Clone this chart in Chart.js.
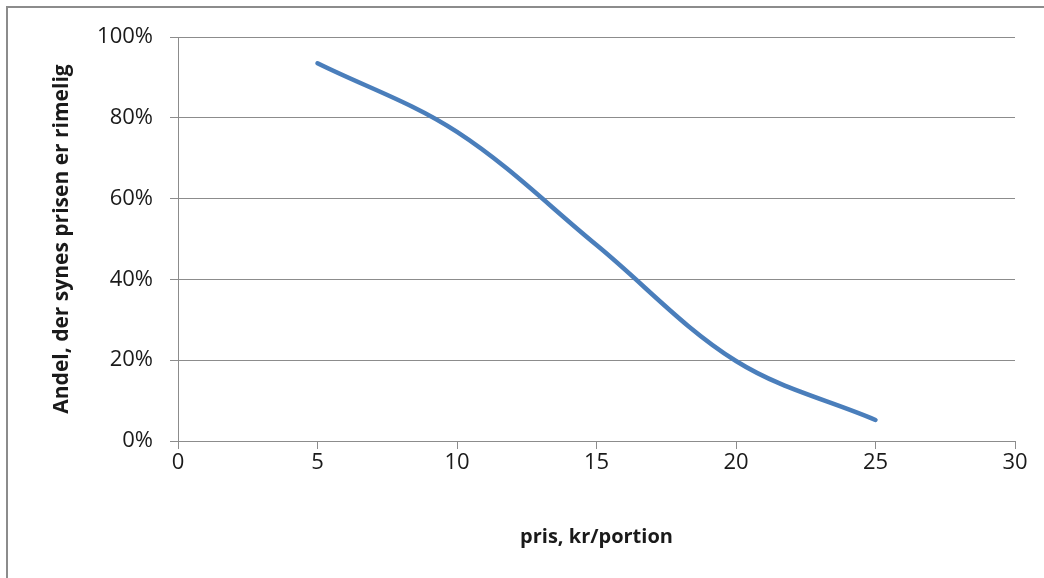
<!DOCTYPE html>
<html>
<head>
<meta charset="utf-8">
<script src="https://cdn.jsdelivr.net/npm/chart.js@4"></script>
<style>
  html, body { margin: 0; padding: 0; background: #fff; }
  #wrap { position: relative; width: 1044px; height: 578px; overflow: hidden; }
  #frame {
    position: absolute; left: 6px; top: 6px; width: 1200px; height: 800px;
    border: 2px solid #8c8c8c; pointer-events: none;
  }
</style>
</head>
<body>
<div id="wrap">
  <canvas id="priceChart" width="1044" height="578"></canvas>
  <div id="frame"></div>
</div>
<script>
// Price (kr/portion) vs share who find the price reasonable
var prices = [5, 10, 15, 20, 25];
var shares = [93.5, 76.5, 48.5, 19.8, 5.2];
var xTicks = [0, 5, 10, 15, 20, 25, 30];
var yTicks = [0, 20, 40, 60, 80, 100];

var COLORS = {
  line: '#4a7ebb',
  grid: '#8c8c8c',
  text: '#1a1a1a'
};

var FONT = "'Open Sans', 'Noto Sans', sans-serif";

var points = prices.map(function(p, i) { return { x: p, y: shares[i] }; });

var ctx = document.getElementById('priceChart').getContext('2d');
new Chart(ctx, {
  type: 'line',
  data: {
    datasets: [{
      data: points,
      borderColor: COLORS.line,
      borderWidth: 4.5,
      borderCapStyle: 'round',
      pointRadius: 0,
      tension: 0.35,
      fill: false
    }]
  },
  options: {
    responsive: false,
    animation: false,
    layout: { padding: { left: 0, top: 37, right: 29, bottom: 0 } },
    plugins: { legend: { display: false }, tooltip: { enabled: false } },
    scales: {
      x: {
        type: 'linear',
        min: 0,
        max: 30,
        afterBuildTicks: function(s) { s.ticks = xTicks.map(function(v) { return { value: v }; }); },
        afterFit: function(s) { s.height = 137; },
        grid: { drawOnChartArea: false, drawTicks: true, tickLength: 8, color: COLORS.grid },
        border: { display: true, color: COLORS.grid, width: 1 },
        ticks: { color: COLORS.text, font: { family: FONT, size: 22 }, padding: 1, maxRotation: 0 },
        title: {
          display: true,
          text: 'pris, kr/portion',
          color: COLORS.text,
          font: { family: FONT, size: 20, weight: 'bold' },
          padding: { top: 0, bottom: 29 }
        }
      },
      y: {
        min: 0,
        max: 100,
        afterBuildTicks: function(s) { s.ticks = yTicks.map(function(v) { return { value: v }; }); },
        afterFit: function(s) { s.width = 178; },
        grid: { color: COLORS.grid, tickLength: 8 },
        border: { display: true, color: COLORS.grid, width: 1 },
        ticks: {
          color: COLORS.text,
          font: { family: FONT, size: 22 },
          padding: 17,
          callback: function(v) { return v + '%'; }
        },
        title: {
          display: true,
          text: 'Andel, der synes prisen er rimelig',
          color: COLORS.text,
          font: { family: FONT, size: 21, weight: 'bold' },
          padding: { top: 49, bottom: 0 }
        }
      }
    }
  }
});
</script>
</body>
</html>
